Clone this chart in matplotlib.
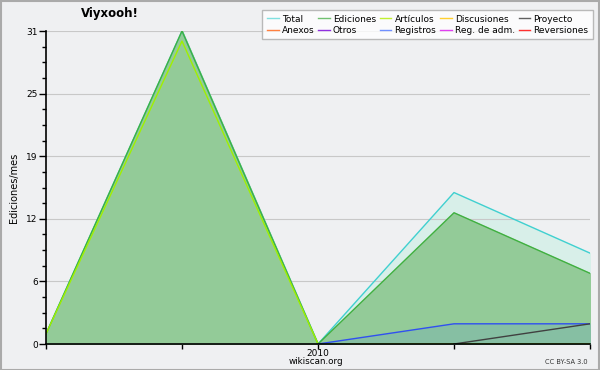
import matplotlib
matplotlib.use("Agg")
import matplotlib.pyplot as plt
from matplotlib.lines import Line2D
import numpy as np

x = [0, 1, 2, 3, 4]
total = [1, 31, 0, 15, 9]
ediciones = [1, 31, 0, 13, 7]
articulos = [1, 30, 0, 0, 0]
registros_x = [2, 3, 4]
registros = [0, 2, 2]
proyecto_x = [3, 4]
proyecto = [0, 2]

legend_names = ["Total", "Ediciones", "Artículos", "Discusiones", "Proyecto",
                "Anexos", "Otros", "Registros", "Reg. de adm.", "Reversiones"]
legend_colors = ["#80e0e0", "#70c070", "#c0f030", "#ffd030", "#606060",
                 "#ff8040", "#9030e0", "#7090ff", "#e040f0", "#ff3030"]

bg = "#eff0f2"
fig = plt.figure(figsize=(6, 3.7), dpi=100, facecolor=bg)
ax = fig.add_axes([46/600, 26/370, 544/600, 313/370])
ax.set_facecolor(bg)

ax.fill_between(x, total, color="#d8efe9", zorder=1)
ax.fill_between(x, ediciones, color="#93cb98", zorder=2)
ax.fill_between(registros_x, registros, color="#86bfa3", zorder=3)

ax.plot(x, total, color="#40d0d0", lw=1, zorder=5)
ax.plot(x, ediciones, color="#40b040", lw=1, zorder=6)
ax.plot(x, articulos, color="#a0f000", lw=1, zorder=7)
ax.plot(registros_x, registros, color="#3050f0", lw=1, zorder=8)
ax.plot(proyecto_x, proyecto, color="#404040", lw=1, zorder=9)

ax.set_xlim(0, 4)
ax.set_ylim(0, 31)
yt = np.linspace(0, 31, 6)
ax.set_yticks(yt)
ax.set_yticklabels([str(int(round(v))) for v in yt])
ax.set_yticks(np.linspace(0, 31, 21), minor=True)
ax.set_xticks(x)
ax.set_xticklabels(["", "", "2010", "", ""])
ax.grid(axis="y", color="#c8c8c8", lw=0.8, zorder=0)
ax.tick_params(axis="y", which="major", length=5, width=1, labelsize=6.5, pad=1, colors="black")
ax.tick_params(axis="x", which="major", length=3.5, width=1, labelsize=6.5, pad=0, colors="black")
ax.tick_params(axis="y", which="minor", length=3, width=1)
for s in ["top", "right"]:
    ax.spines[s].set_visible(False)
for s in ["left", "bottom"]:
    ax.spines[s].set_color("black")
    ax.spines[s].set_linewidth(1.2)
    ax.spines[s].set_zorder(10)

ax.set_ylabel("Ediciones/mes", fontsize=7, labelpad=5)
fig.text(110/600, 1 - 13/370, "Viyxooh!", fontsize=8.5, fontweight="bold", ha="center", va="center")
fig.text(316/600, 1 - 361.5/370, "wikiscan.org", fontsize=6.3, ha="center", va="center")
fig.text(588/600, 1 - 362/370, "CC BY-SA 3.0", fontsize=4.8, ha="right", va="center", color="#333333")

# legend: column-major order for matplotlib
order = [0, 5, 1, 6, 2, 7, 3, 8, 4, 9]
handles = [Line2D([0], [0], color=legend_colors[i], lw=1) for i in order]
labels = [legend_names[i] for i in order]
leg = fig.legend(handles, labels, ncol=5, loc="upper right",
                 bbox_to_anchor=(593/600, 1 - 10/370), fontsize=6.5,
                 frameon=True, fancybox=False, handlelength=1.3, handletextpad=0.35,
                 columnspacing=0.4, labelspacing=0.25, borderpad=0.5,
                 borderaxespad=0)
leg.get_frame().set_edgecolor("#aaaaaa")
leg.get_frame().set_facecolor("white")
leg.get_frame().set_linewidth(1)

# figure border
fig.patches.append(plt.Rectangle((0.001, 0.001), 0.998, 0.997, transform=fig.transFigure,
                                 fill=False, edgecolor="#aaaaaa", lw=1.5))

fig.savefig("out.png", dpi=100, facecolor=bg)
